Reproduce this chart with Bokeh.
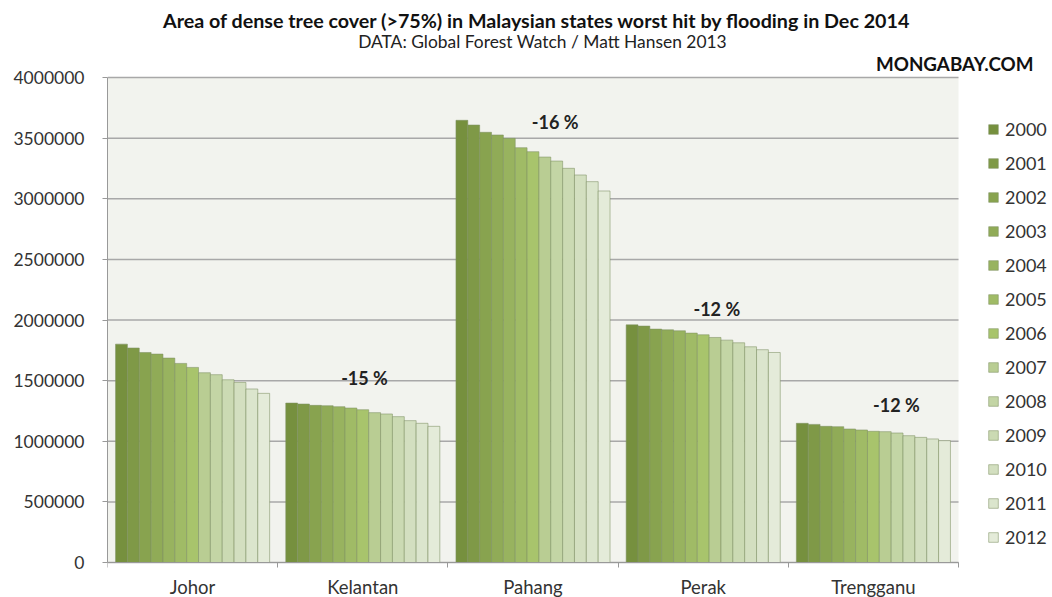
from bokeh.plotting import figure
from bokeh.models import (ColumnDataSource, Range1d, FixedTicker, Legend, LegendItem,
                          Label, BasicTickFormatter)
from bokeh.transform import dodge
from bokeh.embed import file_html
from bokeh.resources import INLINE

# ---------------- data ----------------
states = ["Johor", "Kelantan", "Pahang", "Perak", "Trengganu"]
years = ["2000", "2001", "2002", "2003", "2004", "2005", "2006",
         "2007", "2008", "2009", "2010", "2011", "2012"]

johor     = [1801000, 1769000, 1732000, 1719000, 1686000, 1642000, 1609000,
             1565000, 1549000, 1507000, 1485000, 1431000, 1395000]
kelantan  = [1315000, 1307000, 1296000, 1293000, 1285000, 1274000, 1260000,
             1236000, 1225000, 1203000, 1170000, 1148000, 1123000]
pahang    = [3647000, 3608000, 3548000, 3526000, 3498000, 3421000, 3388000,
             3344000, 3311000, 3251000, 3196000, 3141000, 3064000]
perak     = [1960000, 1950000, 1925000, 1919000, 1911000, 1892000, 1878000,
             1856000, 1834000, 1812000, 1779000, 1755000, 1732000]
trengganu = [1148000, 1139000, 1123000, 1120000, 1101000, 1093000, 1082000,
             1079000, 1068000, 1046000, 1032000, 1019000, 1005000]

pct_labels = ["-15 %", "-16 %", "-12 %", "-12 %"]
pct_states = ["Kelantan", "Pahang", "Perak", "Trengganu"]

y_ticks = [0, 500000, 1000000, 1500000, 2000000, 2500000, 3000000, 3500000, 4000000]
y_max = 4000000

colors = ["#76903e", "#7f9947", "#88a34f", "#90ab57", "#98b35f", "#a0bb66", "#a8c46c",
          "#b9cd93", "#c3d5a5", "#cbdab3", "#d3dfc0", "#dbe5cd", "#e4ebd9"]

FONT = "Lato"
series = [johor, kelantan, pahang, perak, trengganu]
n = len(states)

# ---------------- figure ----------------
# The frame reaches the top, right and bottom edges of the canvas so that the titles,
# the legend and the category labels can live inside it; the plotting area proper
# is 0..n x 0..y_max.
PX_W, PX_H = 851.0, 485.0            # plotting area size in px
RIGHT_PX, TOP_PX, BOT_PX = 94.0, 77.0, 35.0
x_end = n + RIGHT_PX * n / PX_W
y_end = y_max + TOP_PX * y_max / PX_H
y_start = -BOT_PX * y_max / PX_H

p = figure(width=1052, height=597, x_range=Range1d(0, x_end),
           y_range=Range1d(y_start, y_end), output_backend="svg", toolbar_location=None,
           min_border_left=107, min_border_right=0, min_border_top=0,
           min_border_bottom=0)
p.background_fill_color = "white"
p.border_fill_color = "white"
p.outline_line_color = None
p.xgrid.grid_line_color = None
p.ygrid.grid_line_color = None

# plot-area background
p.quad(left=[0], right=[n], bottom=[0], top=[y_max], fill_color="#f2f3ee",
       line_color=None)
# horizontal gridlines (limited to the plot area)
p.segment(x0=[0] * len(y_ticks), x1=[n] * len(y_ticks), y0=y_ticks, y1=y_ticks,
          line_color="#a8a8a8", line_width=1.5)

bw = 0.9053 / len(years)
xc = [i + 0.5 for i in range(n)]

items = []
for j, yr in enumerate(years):
    src = ColumnDataSource(dict(xc=xc, top=[s[j] for s in series]))
    r = p.vbar(x=dodge("xc", (j - 6) * bw, range=p.x_range), top="top", width=bw,
               source=src, fill_color=colors[j], line_color="#7e8f62",
               line_alpha=0.55, line_width=1)
    items.append(LegendItem(label=yr, renderers=[r]))

legend = Legend(items=items, location=(880, 49), orientation="vertical",
                glyph_width=12, glyph_height=12, label_height=20, spacing=12,
                padding=0, margin=0, label_standoff=6,
                label_text_font=FONT, label_text_font_size="18px",
                label_text_color="#333333", background_fill_alpha=0,
                border_line_color=None)
p.add_layout(legend, "center")

# axes
p.xaxis.fixed_location = 0
p.xaxis.bounds = (0, n)
p.xaxis.ticker = FixedTicker(ticks=xc, minor_ticks=list(range(n + 1)))
p.xaxis.major_label_overrides = {x: s for x, s in zip(xc, states)}
p.xaxis.major_tick_out = 0
p.xaxis.major_tick_in = 0
p.xaxis.minor_tick_out = 5
p.xaxis.minor_tick_in = 0
p.xaxis.minor_tick_line_color = "#999999"
p.xaxis.axis_line_color = "#999999"
p.xaxis.major_label_text_font = FONT
p.xaxis.major_label_text_font_size = "18.5px"
p.xaxis.major_label_text_color = "#333333"
p.xaxis.major_label_standoff = 8

p.yaxis.bounds = (0, y_max)
p.yaxis.ticker = FixedTicker(ticks=y_ticks)
p.yaxis.formatter = BasicTickFormatter(use_scientific=False)
p.yaxis.major_tick_out = 5
p.yaxis.major_tick_in = 0
p.yaxis.minor_tick_line_color = None
p.yaxis.major_tick_line_color = "#999999"
p.yaxis.axis_line_color = "#999999"
p.yaxis.major_label_text_font = FONT
p.yaxis.major_label_text_font_size = "17.5px"
p.yaxis.major_label_text_color = "#333333"
p.yaxis.major_label_standoff = 18

# percentage annotations
pct_x_off = [0.01, 0.13, 0.08, 0.135]
pct_y = [1524000, 3633000, 2092000, 1301000]
for lab, st, dx, yy in zip(pct_labels, pct_states, pct_x_off, pct_y):
    p.add_layout(Label(x=states.index(st) + 0.5 + dx, y=yy, text=lab,
                       text_align="center", text_baseline="middle",
                       text_font=FONT, text_font_style="bold",
                       text_font_size="18px", text_color="#222222"))

# titles (screen units relative to the frame's bottom-left corner = canvas (107, 597))
p.add_layout(Label(x=429.5, y=577, x_units="screen", y_units="screen",
                   text="Area of dense tree cover (>75%) in Malaysian states worst hit by flooding in Dec 2014",
                   text_align="center", text_baseline="middle", text_font=FONT,
                   text_font_style="bold", text_font_size="19.7px", text_color="#111111"))
p.add_layout(Label(x=435, y=556, x_units="screen", y_units="screen",
                   text="DATA: Global Forest Watch / Matt Hansen 2013",
                   text_align="center", text_baseline="middle", text_font=FONT,
                   text_font_size="17.4px", text_color="#222222"))
p.add_layout(Label(x=926, y=534, x_units="screen", y_units="screen",
                   text="MONGABAY.COM", text_align="right", text_baseline="middle",
                   text_font=FONT, text_font_style="bold", text_font_size="18.8px",
                   text_color="#111111"))

open("out.html", "w").write(file_html(p, INLINE))
